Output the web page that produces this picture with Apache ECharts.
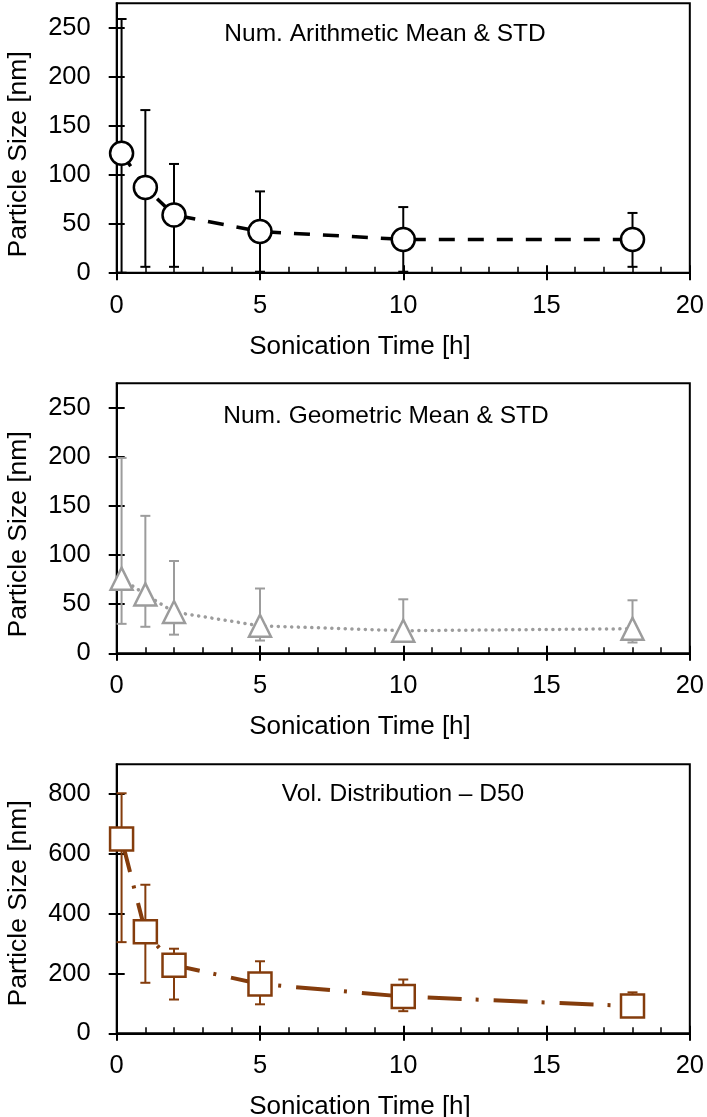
<!DOCTYPE html>
<html>
<head>
<meta charset="utf-8">
<script src="https://cdn.jsdelivr.net/npm/echarts@6/dist/echarts.min.js"></script>
<style>
html,body{margin:0;padding:0;background:#fff;}
#c{width:707px;height:1117px;}
</style>
</head>
<body>
<div id="c"></div>
<script>
// ---- data ----
var timeH = [0.17, 1, 2, 5, 10, 18];

var arithMean = [122, 87, 59, 42, 34, 34];
var arithLow  = [0, 6, 6, 1, 1, 6];
var arithHigh = [259, 166, 111, 83, 67, 61];

var geoMean = [76, 60, 42, 28, 23, 25];
var geoLow  = [30, 27, 19, 13, 12, 11];
var geoHigh = [199, 140, 94, 66, 55, 54];

var d50Mean = [650, 340, 228, 165, 123, 91];
var d50Low  = [305, 169, 113, 97, 74, 75];
var d50High = [803, 497, 283, 241, 180, 137];

var yTicksNum = [0, 50, 100, 150, 200, 250];
var yTicksVol = [0, 200, 400, 600, 800];
var xTicks = [0, 5, 10, 15, 20];

var panelLabels = ['Num. Arithmetic Mean & STD', 'Num. Geometric Mean & STD', 'Vol. Distribution \u2013 D50'];
var xTitle = 'Sonication Time [h]';
var yTitle = 'Particle Size [nm]';

// ---- layout ----
var FONT = "'Liberation Sans', Arial, sans-serif";
var panels = [
  {top: 3.3, height: 269.4, yMax: 275, yTicks: yTicksNum, mean: arithMean, low: arithLow, high: arithHigh,
   color: '#000000', symbol: 'circle', symbolSize: 23, line: {type: [16, 13], width: 3.5, cap: 'butt'},
   label: panelLabels[0], labelX: 385, labelY: 34.5},
  {top: 383.3, height: 270, yMax: 275, yTicks: yTicksNum, mean: geoMean, low: geoLow, high: geoHigh,
   color: '#9C9C9C', symbol: 'triangle', symbolSize: [22, 22], line: {type: [0.1, 6.6], width: 3.5, cap: 'round'},
   label: panelLabels[1], labelX: 386, labelY: 416},
  {top: 764.3, height: 269, yMax: 900, yTicks: yTicksVol, mean: d50Mean, low: d50Low, high: d50High,
   color: '#843C0C', symbol: 'rect', symbolSize: 23, line: {type: [34, 14, 3, 15], width: 4, cap: 'butt'},
   label: panelLabels[2], labelX: 403, labelY: 794}
];

var grids = [], xAxes = [], yAxes = [], series = [], graphics = [];

panels.forEach(function (p, i) {
  grids.push({left: 116.7, right: 16.3, top: p.top, height: p.height, show: true,
    borderColor: '#000', borderWidth: 2, backgroundColor: 'transparent'});
  xAxes.push({type: 'value', gridIndex: i, min: 0, max: 20, interval: 5, position: 'bottom',
    axisLine: {show: true, onZero: false, lineStyle: {color: '#000', width: 2}},
    axisTick: {show: true, inside: true, length: 7.5, lineStyle: {color: '#000', width: 2}},
    minorTick: {show: true, splitNumber: 5, length: 6, lineStyle: {color: '#000', width: 1.5}},
    axisLabel: {show: true, margin: 20, color: '#000', fontSize: 25.5, fontFamily: FONT,
      customValues: xTicks},
    splitLine: {show: false}, minorSplitLine: {show: false}});
  xAxes.push({type: 'value', gridIndex: i, min: 0, max: 20, interval: 5, position: 'bottom',
    axisLine: {show: false, onZero: false},
    axisTick: {show: true, inside: false, length: 7.5, lineStyle: {color: '#000', width: 2}},
    axisLabel: {show: false}, splitLine: {show: false}});
  yAxes.push({type: 'value', gridIndex: i, min: 0, max: p.yMax, position: 'left',
    axisLine: {show: true, onZero: false, lineStyle: {color: '#000', width: 2}},
    axisTick: {show: true, inside: true, length: 8, lineStyle: {color: '#000', width: 2},
      customValues: p.yTicks},
    axisLabel: {show: true, margin: 26, color: '#000', fontSize: 25.5, fontFamily: FONT,
      customValues: p.yTicks},
    splitLine: {show: false}});
  yAxes.push({type: 'value', gridIndex: i, min: 0, max: p.yMax, position: 'left',
    axisLine: {show: false, onZero: false},
    axisTick: {show: true, inside: false, length: 8, lineStyle: {color: '#000', width: 2},
      customValues: p.yTicks},
    axisLabel: {show: false}, splitLine: {show: false}});

  var errData = timeH.map(function (t, k) { return [t, p.low[k], p.high[k]]; });
  (function (color) {
    series.push({type: 'custom', xAxisIndex: 2 * i, yAxisIndex: 2 * i, z: 1, clip: false,
      data: errData, encode: {x: 0, y: [1, 2]},
      renderItem: function (params, api) {
        var x = api.value(0), lo = api.value(1), hi = api.value(2);
        var a = api.coord([x, lo]), b = api.coord([x, hi]);
        var cw = 5;
        var st = {stroke: color, lineWidth: 2};
        return {type: 'group', children: [
          {type: 'line', shape: {x1: a[0], y1: a[1], x2: b[0], y2: b[1]}, style: st},
          {type: 'line', shape: {x1: b[0] - cw, y1: b[1], x2: b[0] + cw, y2: b[1]}, style: st},
          {type: 'line', shape: {x1: a[0] - cw, y1: a[1], x2: a[0] + cw, y2: a[1]}, style: st}
        ]};
      }});
  })(p.color);

  series.push({type: 'line', xAxisIndex: 2 * i, yAxisIndex: 2 * i, z: 3,
    data: timeH.map(function (t, k) { return [t, p.mean[k]]; }),
    symbol: p.symbol, symbolSize: p.symbolSize, showAllSymbol: true,
    itemStyle: {color: '#ffffff', borderColor: p.color, borderWidth: 2.5},
    lineStyle: {color: p.color, width: p.line.width, type: p.line.type, cap: p.line.cap},
    emphasis: {disabled: true}, animation: false});

  graphics.push({type: 'text', x: p.labelX, y: p.labelY,
    style: {text: p.label, fill: '#000', font: '24.5px ' + FONT, textAlign: 'center', textVerticalAlign: 'middle'}});
  var axisY = p.top + p.height;
  graphics.push({type: 'text', x: 360, y: axisY + 74,
    style: {text: xTitle, fill: '#000', font: '26px ' + FONT, textAlign: 'center', textVerticalAlign: 'middle'}});
  graphics.push({type: 'text', x: 19, y: p.top + (i === 2 ? 139 : 151), rotation: Math.PI / 2,
    style: {text: yTitle, fill: '#000', font: '26.5px ' + FONT, textAlign: 'center', textVerticalAlign: 'middle'}});
});

var chart = echarts.init(document.getElementById('c'), null, {renderer: 'canvas'});
chart.setOption({
  animation: false,
  backgroundColor: '#ffffff',
  grid: grids, xAxis: xAxes, yAxis: yAxes, series: series, graphic: graphics
});
</script>
</body>
</html>
